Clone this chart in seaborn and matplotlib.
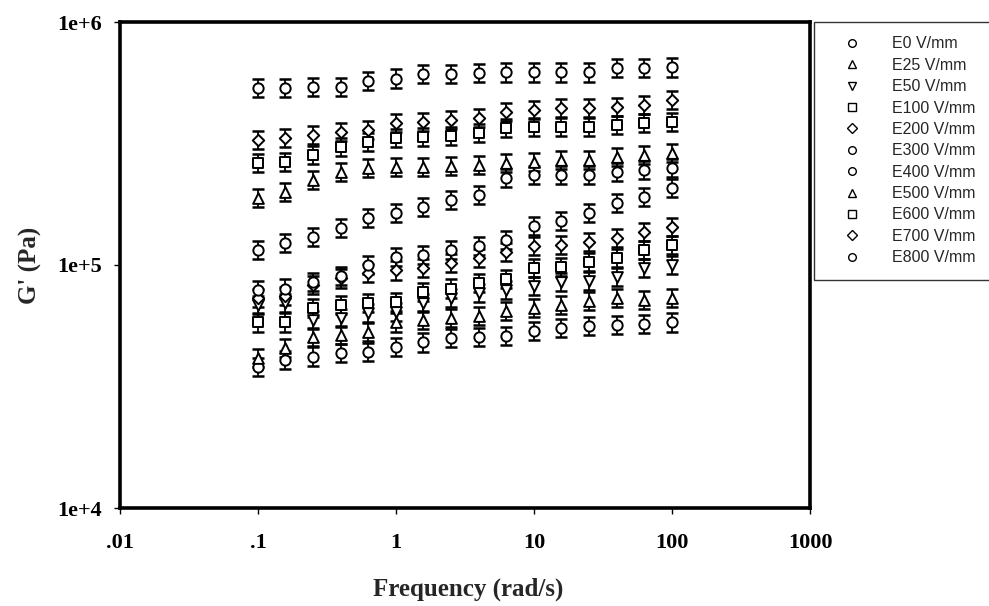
import numpy as np
import pandas as pd
import matplotlib
matplotlib.use("Agg")
import matplotlib.pyplot as plt
from matplotlib.lines import Line2D
from matplotlib.ticker import FixedLocator, FixedFormatter, NullLocator
import seaborn as sns

# ---------------- data (G' in Pa) ----------------
freq = [0.1, 0.158, 0.251, 0.398, 0.631, 1.0, 1.58, 2.51, 3.98, 6.31,
        10.0, 15.8, 25.1, 39.8, 63.1, 100.0]

g_e0 = [3.8e4, 4.05e4, 4.2e4, 4.35e4, 4.4e4, 4.6e4, 4.8e4, 5.0e4, 5.05e4, 5.1e4,
        5.35e4, 5.5e4, 5.6e4, 5.65e4, 5.7e4, 5.8e4]
g_e25 = [4.15e4, 4.55e4, 5.05e4, 5.15e4, 5.3e4, 5.8e4, 5.95e4, 6.05e4, 6.15e4, 6.45e4,
         6.65e4, 6.85e4, 7.1e4, 7.3e4, 7.2e4, 7.3e4]
g_e50 = [6.85e4, 7.0e4, 5.95e4, 6.05e4, 6.35e4, 6.4e4, 6.95e4, 7.3e4, 7.65e4, 7.9e4,
         8.2e4, 8.5e4, 8.6e4, 8.95e4, 9.7e4, 1.0e5]
g_e100 = [5.8e4, 5.8e4, 6.65e4, 6.85e4, 7.0e4, 7.05e4, 7.75e4, 8.0e4, 8.45e4, 8.75e4,
          9.7e4, 9.8e4, 1.03e5, 1.07e5, 1.15e5, 1.21e5]
g_e200 = [7.3e4, 7.45e4, 8.3e4, 8.8e4, 9.3e4, 9.5e4, 9.7e4, 1.02e5, 1.07e5, 1.13e5,
          1.20e5, 1.21e5, 1.24e5, 1.29e5, 1.37e5, 1.43e5]
g_e300 = [7.9e4, 8.0e4, 8.5e4, 9.0e4, 1.0e5, 1.08e5, 1.10e5, 1.15e5, 1.20e5, 1.27e5,
          1.45e5, 1.52e5, 1.64e5, 1.80e5, 1.90e5, 2.07e5]
g_e400 = [1.15e5, 1.23e5, 1.30e5, 1.42e5, 1.56e5, 1.64e5, 1.73e5, 1.85e5, 1.94e5, 2.28e5,
          2.35e5, 2.35e5, 2.35e5, 2.42e5, 2.46e5, 2.51e5]
g_e500 = [1.89e5, 2.0e5, 2.24e5, 2.42e5, 2.51e5, 2.53e5, 2.53e5, 2.55e5, 2.58e5, 2.63e5,
          2.65e5, 2.70e5, 2.70e5, 2.78e5, 2.84e5, 2.89e5]
g_e600 = [2.63e5, 2.65e5, 2.84e5, 3.06e5, 3.21e5, 3.33e5, 3.36e5, 3.40e5, 3.49e5, 3.66e5,
          3.70e5, 3.70e5, 3.70e5, 3.77e5, 3.84e5, 3.88e5]
g_e700 = [3.27e5, 3.33e5, 3.43e5, 3.53e5, 3.60e5, 3.84e5, 3.88e5, 3.95e5, 4.03e5, 4.27e5,
          4.35e5, 4.43e5, 4.43e5, 4.47e5, 4.55e5, 4.78e5]
g_e800 = [5.35e5, 5.35e5, 5.4e5, 5.4e5, 5.7e5, 5.85e5, 6.1e5, 6.1e5, 6.15e5, 6.2e5,
          6.2e5, 6.2e5, 6.2e5, 6.45e5, 6.45e5, 6.5e5]

series_labels = ["E0 V/mm", "E25 V/mm", "E50 V/mm", "E100 V/mm", "E200 V/mm",
                 "E300 V/mm", "E400 V/mm", "E500 V/mm", "E600 V/mm", "E700 V/mm",
                 "E800 V/mm"]
series_values = [g_e0, g_e25, g_e50, g_e100, g_e200, g_e300, g_e400, g_e500,
                 g_e600, g_e700, g_e800]
series_markers = ["o", "^", "v", "s", "D", "o", "o", "^", "s", "D", "o"]
err_factor = 1.09   # multiplicative error-bar half-range

x_ticks = [0.01, 0.1, 1, 10, 100, 1000]
x_ticklabels = [".01", ".1", "1", "10", "100", "1000"]
y_ticks = [1e4, 1e5, 1e6]
y_ticklabels = ["1e+4", "1e+5", "1e+6"]

# ---------------- style ----------------
sns.set_style("ticks")
plt.rcParams["font.family"] = ["Liberation Serif", "DejaVu Serif"]

fig = plt.figure(figsize=(9.89, 6.06), dpi=100)
ax = fig.add_axes([120 / 989, 1 - 508 / 606, 690 / 989, 486 / 606])

marker_size = {"o": 55, "^": 60, "v": 60, "s": 50, "D": 34}

for lab, vals, mk in zip(series_labels, series_values, series_markers):
    v = np.asarray(vals, dtype=float)
    lo = v - v / err_factor
    hi = v * err_factor - v
    ax.errorbar(freq, v, yerr=[lo, hi], fmt="none", ecolor="black",
                elinewidth=1.3, capsize=4.5, capthick=1.8, zorder=2)
    df = pd.DataFrame({"freq": freq, "G": v})
    sns.scatterplot(data=df, x="freq", y="G", marker=mk, s=marker_size[mk],
                    facecolor="white", edgecolor="black", linewidth=1.4,
                    ax=ax, zorder=3, legend=False)

ax.set_xscale("log")
ax.set_yscale("log")
ax.set_xlim(0.01, 1000)
ax.set_ylim(1e4, 1e6)

ax.xaxis.set_major_locator(FixedLocator(x_ticks))
ax.xaxis.set_major_formatter(FixedFormatter(x_ticklabels))
ax.xaxis.set_minor_locator(NullLocator())
ax.yaxis.set_major_locator(FixedLocator(y_ticks))
ax.yaxis.set_major_formatter(FixedFormatter(y_ticklabels))
ax.yaxis.set_minor_locator(NullLocator())

for sp in ax.spines.values():
    sp.set_visible(True)
    sp.set_linewidth(2.6)
    sp.set_color("black")

ax.tick_params(axis="both", which="major", direction="out", length=4, width=1,
               colors="black", labelsize=16)
ax.tick_params(axis="x", pad=14)
ax.tick_params(axis="y", pad=9)
for t in ax.get_xticklabels() + ax.get_yticklabels():
    t.set_fontweight("bold")

ax.set_xlabel("Frequency (rad/s)", fontsize=18, fontweight="bold")
ax.set_ylabel("G' (Pa)", fontsize=18, fontweight="bold")
ax.xaxis.set_label_coords(0.504, -0.144)
ax.yaxis.set_label_coords(-0.113, 0.5)

# legend
leg_ms = {"o": 5.5, "^": 5.5, "v": 5.5, "s": 5.5, "D": 5.0}
handles = [Line2D([0], [0], linestyle="", marker=mk, markersize=leg_ms[mk],
                  markerfacecolor="white", markeredgecolor="black",
                  markeredgewidth=1.0)
           for mk in series_markers]
leg = fig.legend(handles, series_labels, loc="upper left",
                 bbox_to_anchor=(814 / 989, 1 - 22 / 606),
                 bbox_transform=fig.transFigure,
                 prop={"family": "Liberation Sans", "size": 11.5},
                 frameon=True, fancybox=False, borderpad=0.9,
                 handlelength=3.0, handletextpad=1.0, labelspacing=0.4,
                 borderaxespad=0)
leg.get_frame().set_edgecolor("black")
leg.get_frame().set_linewidth(1.0)

fig.savefig("out.png", dpi=100, facecolor="white")
